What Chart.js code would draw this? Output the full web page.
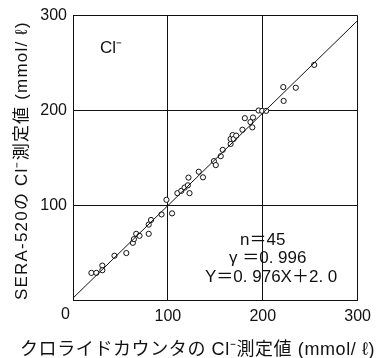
<!DOCTYPE html>
<html>
<head>
<meta charset="utf-8">
<script src="https://cdn.jsdelivr.net/npm/chart.js@4"></script>
<style>
  html, body { margin: 0; padding: 0; background: #fff; }
  #wrap { width: 378px; height: 358px; position: relative; }
</style>
</head>
<body>
<div id="wrap"><canvas id="chart"></canvas></div>
<script>
// Cl- : SERA-520 vs chloride counter
const xVals = [19.4, 24.6, 30.9, 30.9, 43.7, 56.2, 63.1, 64.2, 66.6, 70.1,
               79.8, 79.8, 82.2, 93.3, 98.5, 104.4, 110.0, 114.1, 117.6, 121.0,
               121.7, 122.8, 132.5, 137.0, 148.5, 150.5, 155.7, 157.8, 166.1, 166.1,
               168.2, 169.3, 172.0, 178.6, 181.1, 187.0, 189.0, 189.7, 195.6, 199.4,
               203.6, 221.6, 222.0, 234.8, 254.2];
const yVals = [28.6, 28.6, 36.3, 31.4, 46.7, 49.5, 60.3, 64.2, 69.8, 67.7,
               69.8, 79.5, 84.4, 90.3, 105.7, 91.4, 112.7, 115.1, 118.6, 121.0,
               129.1, 112.7, 135.3, 129.4, 146.5, 142.3, 151.7, 158.4, 164.6, 169.9,
               174.0, 169.9, 173.4, 179.6, 191.8, 187.7, 182.1, 192.5, 199.9, 199.5,
               199.5, 224.6, 210.0, 223.9, 248.0];
// regression line Y=0.976X+2.0, end points
const fitX = [0, 300];
const fitY = [2.0, 294.8];
const tickVals = [0, 100, 200, 300];

const xTitle = 'クロライドカウンタの Cl⁻測定値 (mmol/ ℓ)';
const yTitle = 'SERA-520の Cl⁻測定値 (mmol/ ℓ)';
const statLines = ['n＝45', 'γ ＝0. 996', 'Y＝0. 976X＋2. 0'];

const INK = '#111';
const LATIN = "'Liberation Sans', Arial, sans-serif";
const JP = "'Liberation Sans', 'Noto Sans CJK JP', sans-serif";

// axis titles are drawn here so they are not squeezed to the plot width
const notes = {
  id: 'notes',
  beforeDraw(chart) {
    chart.ctx.fontKerning = 'none';
  },
  afterDraw(chart) {
    const ctx = chart.ctx;
    const a = chart.chartArea;
    ctx.save();
    ctx.fillStyle = INK;
    // shared origin label
    ctx.font = '16px ' + LATIN;
    ctx.textAlign = 'right';
    ctx.textBaseline = 'top';
    ctx.fillText('0', a.left - 3, a.bottom + 7);
    // ion label
    ctx.font = '17px ' + LATIN;
    ctx.textAlign = 'left';
    ctx.textBaseline = 'alphabetic';
    ctx.fillText('Cl⁻', 100, 53);
    // stats
    ctx.font = '17px ' + JP;
    const xs = [240, 229, 205];
    const ys = [245, 263, 282];
    statLines.forEach((t, i) => ctx.fillText(t, xs[i], ys[i]));

    // x title
    ctx.textBaseline = 'middle';
    ctx.font = '18px ' + JP;
    ctx.letterSpacing = '0.6px';
    ctx.fillText(xTitle, 20, 350);
    // y title
    ctx.font = '17px ' + JP;
    ctx.letterSpacing = '1.2px';
    ctx.translate(22, 300);
    ctx.rotate(-Math.PI / 2);
    ctx.fillText(yTitle, 0, 0);
    ctx.restore();
  }
};

new Chart(document.getElementById('chart'), {
  type: 'scatter',
  data: {
    datasets: [
      {
        type: 'line',
        data: fitX.map((x, i) => ({ x, y: fitY[i] })),
        borderColor: INK, borderWidth: 1, pointRadius: 0, fill: false,
      },
      {
        data: xVals.map((x, i) => ({ x, y: yVals[i] })),
        pointStyle: 'circle', pointRadius: 2.6, borderWidth: 1,
        borderColor: INK, backgroundColor: '#fff',
      }
    ]
  },
  options: {
    responsive: true, maintainAspectRatio: false, animation: false,
    layout: { padding: { top: 13, right: 17, left: 0, bottom: 0 } },
    plugins: { legend: { display: false }, tooltip: { enabled: false } },
    scales: {
      x: {
        type: 'linear', min: 0, max: 300,
        afterFit: s => { s.height = 58; },
        afterBuildTicks: s => { s.ticks = tickVals.map(v => ({ value: v })); },
        grid: { color: INK, lineWidth: 1, drawTicks: false },
        border: { display: true, color: INK },
        ticks: {
          padding: 7, color: INK, font: { size: 16, family: LATIN },
          callback: v => v === 0 ? '' : v,
        },
        title: { display: false }
      },
      y: {
        type: 'linear', min: 0, max: 300,
        afterFit: s => { s.width = 73; },
        afterBuildTicks: s => { s.ticks = tickVals.map(v => ({ value: v })); },
        grid: { color: INK, lineWidth: 1, drawTicks: false },
        border: { display: true, color: INK },
        ticks: {
          padding: 6, color: INK, font: { size: 16, family: LATIN },
          callback: v => v === 0 ? '' : v,
        },
        title: { display: false }
      }
    }
  },
  plugins: [notes]
});
</script>
</body>
</html>
